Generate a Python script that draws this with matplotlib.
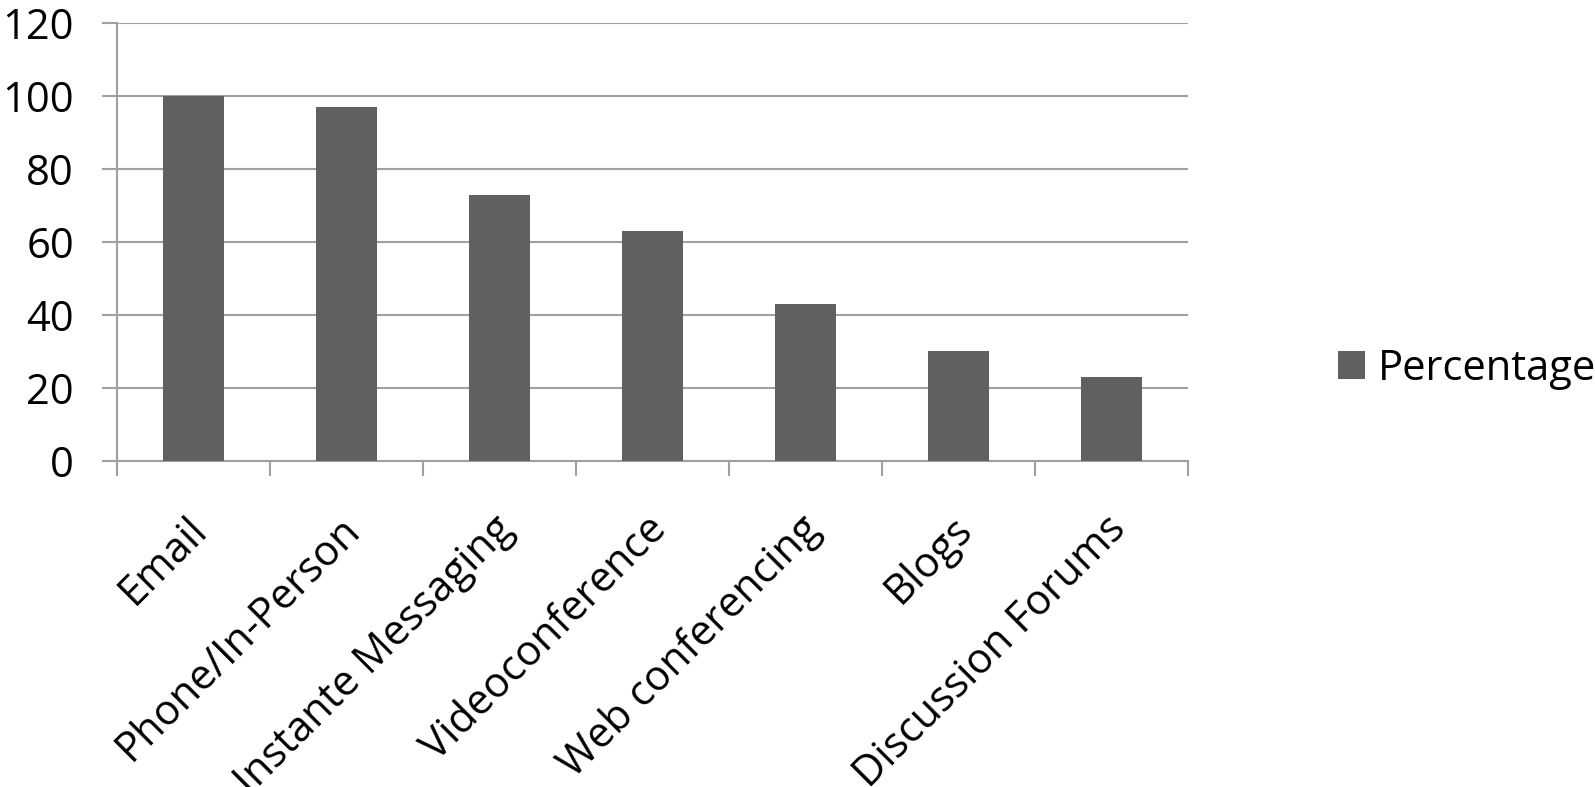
import matplotlib
matplotlib.use("Agg")
import matplotlib.pyplot as plt
import matplotlib.transforms as mtransforms
import numpy as np

categories = ["Email", "Phone/In-Person", "Instante Messaging", "Videoconference",
              "Web conferencing", "Blogs", "Discussion Forums"]
percentage = [100, 97, 73, 63, 43, 30, 23]
yticks = [0, 20, 40, 60, 80, 100, 120]
series_name = "Percentage"

plt.rcParams['font.family'] = ['Open Sans', 'DejaVu Sans']
FS = 30
bar_color = "#606060"
grid_color = "#A0A0A0"

fig = plt.figure(figsize=(15.95, 7.87), dpi=100)
ax = fig.add_axes([117/1595, 1 - 461/787, (1188 - 117)/1595, (461 - 23)/787])

x = np.arange(len(categories))
ax.bar(x, percentage, width=0.4, color=bar_color, label=series_name, zorder=3)

ax.set_ylim(0, 120)
ax.set_xlim(-0.5, len(categories) - 0.5)
ax.set_yticks(yticks)
ax.set_yticklabels([str(v) for v in yticks], fontsize=FS)
ax.yaxis.grid(True, color=grid_color, linewidth=1.5, zorder=0)
ax.tick_params(axis='y', length=11, width=1.5, color=grid_color, pad=20)

ax.set_xticks(x)
ax.set_xticklabels(categories, fontsize=FS, rotation=45, ha='right',
                   va='top', rotation_mode='anchor')
ax.tick_params(axis='x', which='major', length=0, pad=34)
offset = mtransforms.ScaledTranslation(-7/100, 0, fig.dpi_scale_trans)
for lbl in ax.get_xticklabels():
    lbl.set_transform(lbl.get_transform() + offset)
ax.set_xticks(np.arange(-0.5, len(categories), 1.0), minor=True)
ax.tick_params(axis='x', which='minor', length=11, width=1.5, color=grid_color)

for side in ['top', 'right']:
    ax.spines[side].set_visible(False)
for side in ['left', 'bottom']:
    ax.spines[side].set_color(grid_color)
    ax.spines[side].set_linewidth(1.5)

fig.legend(loc='center left', bbox_to_anchor=(1338/1595, 1 - 369/787),
           frameon=False, fontsize=FS, handlelength=0.65, handleheight=0.65,
           handletextpad=0.31, borderpad=0, borderaxespad=0)

fig.savefig("out.png", dpi=100)
